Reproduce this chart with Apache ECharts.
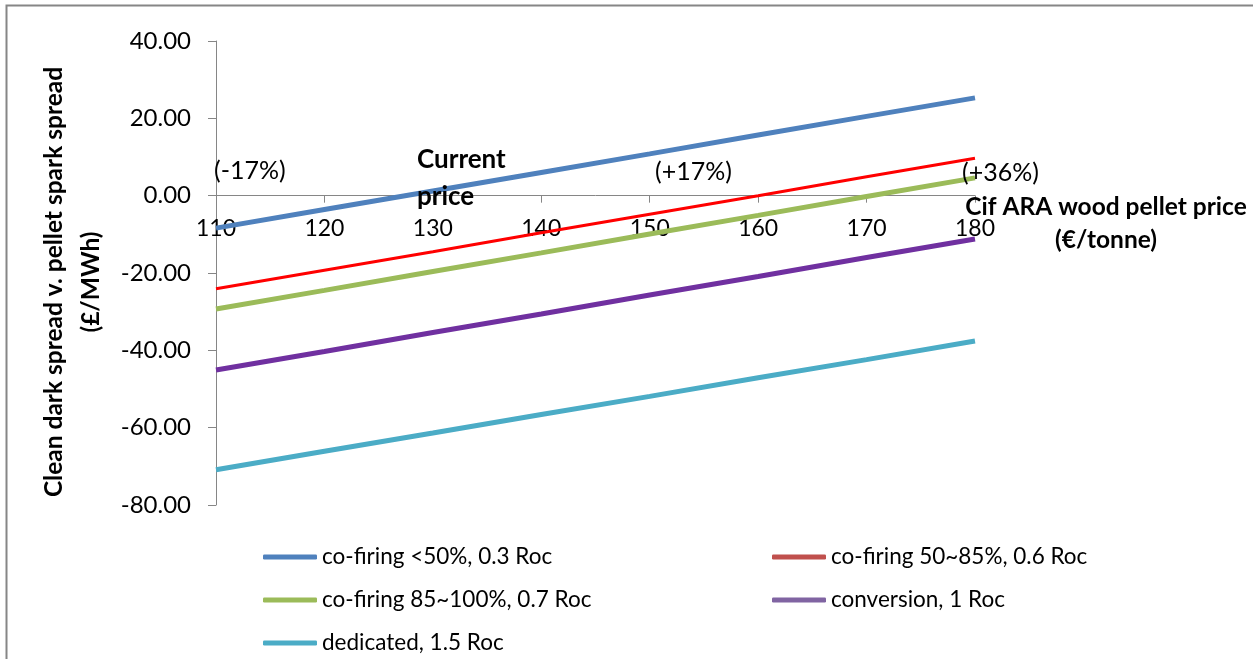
<!DOCTYPE html>
<html>
<head>
<meta charset="utf-8">
<script src="https://cdn.jsdelivr.net/npm/echarts@6/dist/echarts.min.js"></script>
<style>
  html, body { margin: 0; padding: 0; background: #fff; }
  #chart { width: 1253px; height: 659px; }
</style>
</head>
<body>
<div id="chart"></div>
<script>
// Cif ARA wood pellet price (€/tonne)
const pelletPrices = [110, 120, 130, 140, 150, 160, 170, 180];

// Clean dark spread v. pellet spark spread (£/MWh) for each plant type
const coFiringUnder50 = [-8.4, -3.6, 1.2, 6.0, 10.8, 15.7, 20.5, 25.3];
const coFiring50to85 = [-24.1, -19.3, -14.5, -9.6, -4.8, 0.0, 4.9, 9.7];
const coFiring85to100 = [-29.3, -24.5, -19.6, -14.8, -9.9, -5.1, -0.2, 4.6];
const conversion = [-45.1, -40.3, -35.4, -30.6, -25.7, -20.9, -16.0, -11.2];
const dedicated = [-70.9, -66.1, -61.4, -56.6, -51.9, -47.1, -42.4, -37.6];

const seriesNames = [
  'co-firing <50%, 0.3 Roc',
  'co-firing 50~85%, 0.6 Roc',
  'co-firing 85~100%, 0.7 Roc',
  'conversion, 1 Roc',
  'dedicated, 1.5 Roc'
];
const seriesValues = [coFiringUnder50, coFiring50to85, coFiring85to100, conversion, dedicated];
const lineColors = ['#4F81BD', '#FF0000', '#9BBB59', '#7030A0', '#4BACC6'];
const legendColors = ['#4F81BD', '#C0504D', '#9BBB59', '#8064A2', '#4BACC6'];
const lineWidths = [5, 3, 5, 5, 5];

// y-axis range
const yMin = -80;
const yMax = 40;

// Price-change annotations along the x axis
const priceNotes = [
  { text: '(-17%)', left: 214, mid: 171, bold: false },
  { text: 'Current', left: 417, mid: 160, bold: true },
  { text: 'price', left: 417, mid: 197, bold: true },
  { text: '(+17%)', left: 655, mid: 172, bold: false },
  { text: '(+36%)', left: 962, mid: 173, bold: false }
];

const xAxisTitle = ['Cif ARA wood pellet price', '(€/tonne)'];

const FONT = 'Lato, "Open Sans", sans-serif';
const AXIS_GREY = '#868686';

const GRID = { left: 216, right: 278, top: 41, bottom: 154 };
const plotHeight = 659 - GRID.top - GRID.bottom;
// distance from the bottom of the plot up to the zero line
const zeroLift = plotHeight * (0 - yMin) / (yMax - yMin);

const chart = echarts.init(document.getElementById('chart'), null, { renderer: 'canvas' });

const series = seriesNames.map((name, i) => ({
  name,
  type: 'line',
  data: pelletPrices.map((p, j) => [p, seriesValues[i][j]]),
  showSymbol: false,
  symbol: 'none',
  lineStyle: { color: lineColors[i], width: lineWidths[i], cap: 'butt' },
  itemStyle: { color: legendColors[i] },
  silent: true,
  animation: false,
  z: 3
}));

function legendItems(indices) {
  return indices.map(i => ({
    name: seriesNames[i],
    itemStyle: { color: legendColors[i] }
  }));
}

const legendBase = {
  orient: 'vertical',
  icon: 'roundRect',
  padding: 0,
  itemWidth: 54,
  itemHeight: 5,
  itemGap: 17,
  height: 116,
  selectedMode: false,
  textStyle: { fontFamily: FONT, fontSize: 22.5, color: '#000', lineHeight: 26 }
};

chart.setOption({
  animation: false,
  backgroundColor: '#fff',
  grid: Object.assign({ containLabel: false }, GRID),
  xAxis: {
    type: 'value',
    min: 110,
    max: 180,
    interval: 10,
    position: 'bottom',
    offset: -zeroLift,
    axisLine: { onZero: false, lineStyle: { color: AXIS_GREY, width: 1 } },
    axisTick: { show: true, inside: false, length: 7, lineStyle: { color: AXIS_GREY } },
    axisLabel: { fontFamily: FONT, fontSize: 23, color: '#000', margin: 21 },
    splitLine: { show: false }
  },
  yAxis: {
    type: 'value',
    min: yMin,
    max: yMax,
    interval: 20,
    name: 'Clean dark spread v. pellet spark spread\n(£/MWh)',
    nameLocation: 'middle',
    nameGap: 98,
    nameRotate: 90,
    nameTextStyle: {
      fontFamily: FONT, fontSize: 24.5, fontWeight: 'bold', color: '#000',
      lineHeight: 37, padding: [0, 18, 0, 0]
    },
    axisLine: { show: true, lineStyle: { color: AXIS_GREY, width: 1 } },
    axisTick: { show: true, inside: false, length: 8, lineStyle: { color: AXIS_GREY } },
    axisLabel: {
      fontFamily: FONT, fontSize: 24, color: '#000', margin: 25,
      formatter: v => v.toFixed(2)
    },
    splitLine: { show: false }
  },
  legend: [
    Object.assign({}, legendBase, { left: 263, top: 544, data: legendItems([0, 2, 4]) }),
    Object.assign({}, legendBase, { left: 772, top: 544, data: legendItems([1, 3]) })
  ],
  graphic: [
    {
      type: 'rect',
      silent: true,
      shape: { x: 6.5, y: 5.5, width: 1300, height: 700 },
      style: { fill: 'none', stroke: AXIS_GREY, lineWidth: 2 },
      z: 0
    },
    {
      type: 'text',
      silent: true,
      x: 1106,
      y: 207,
      style: {
        text: xAxisTitle[0], fontFamily: FONT, fontSize: 24.5, fontWeight: 'bold',
        fill: '#000', align: 'center', verticalAlign: 'middle'
      },
      z: 10
    },
    {
      type: 'text',
      silent: true,
      x: 1106,
      y: 240,
      style: {
        text: xAxisTitle[1], fontFamily: FONT, fontSize: 24.5, fontWeight: 'bold',
        fill: '#000', align: 'center', verticalAlign: 'middle'
      },
      z: 10
    }
  ].concat(priceNotes.map(n => ({
    type: 'text',
    silent: true,
    x: n.left,
    y: n.mid,
    style: {
      text: n.text,
      fontFamily: FONT,
      fontSize: n.bold ? 26 : 25,
      fontWeight: n.bold ? 'bold' : 'normal',
      fill: '#000',
      align: 'left',
      verticalAlign: 'middle'
    },
    z: 10
  }))),
  series
});
</script>
</body>
</html>
